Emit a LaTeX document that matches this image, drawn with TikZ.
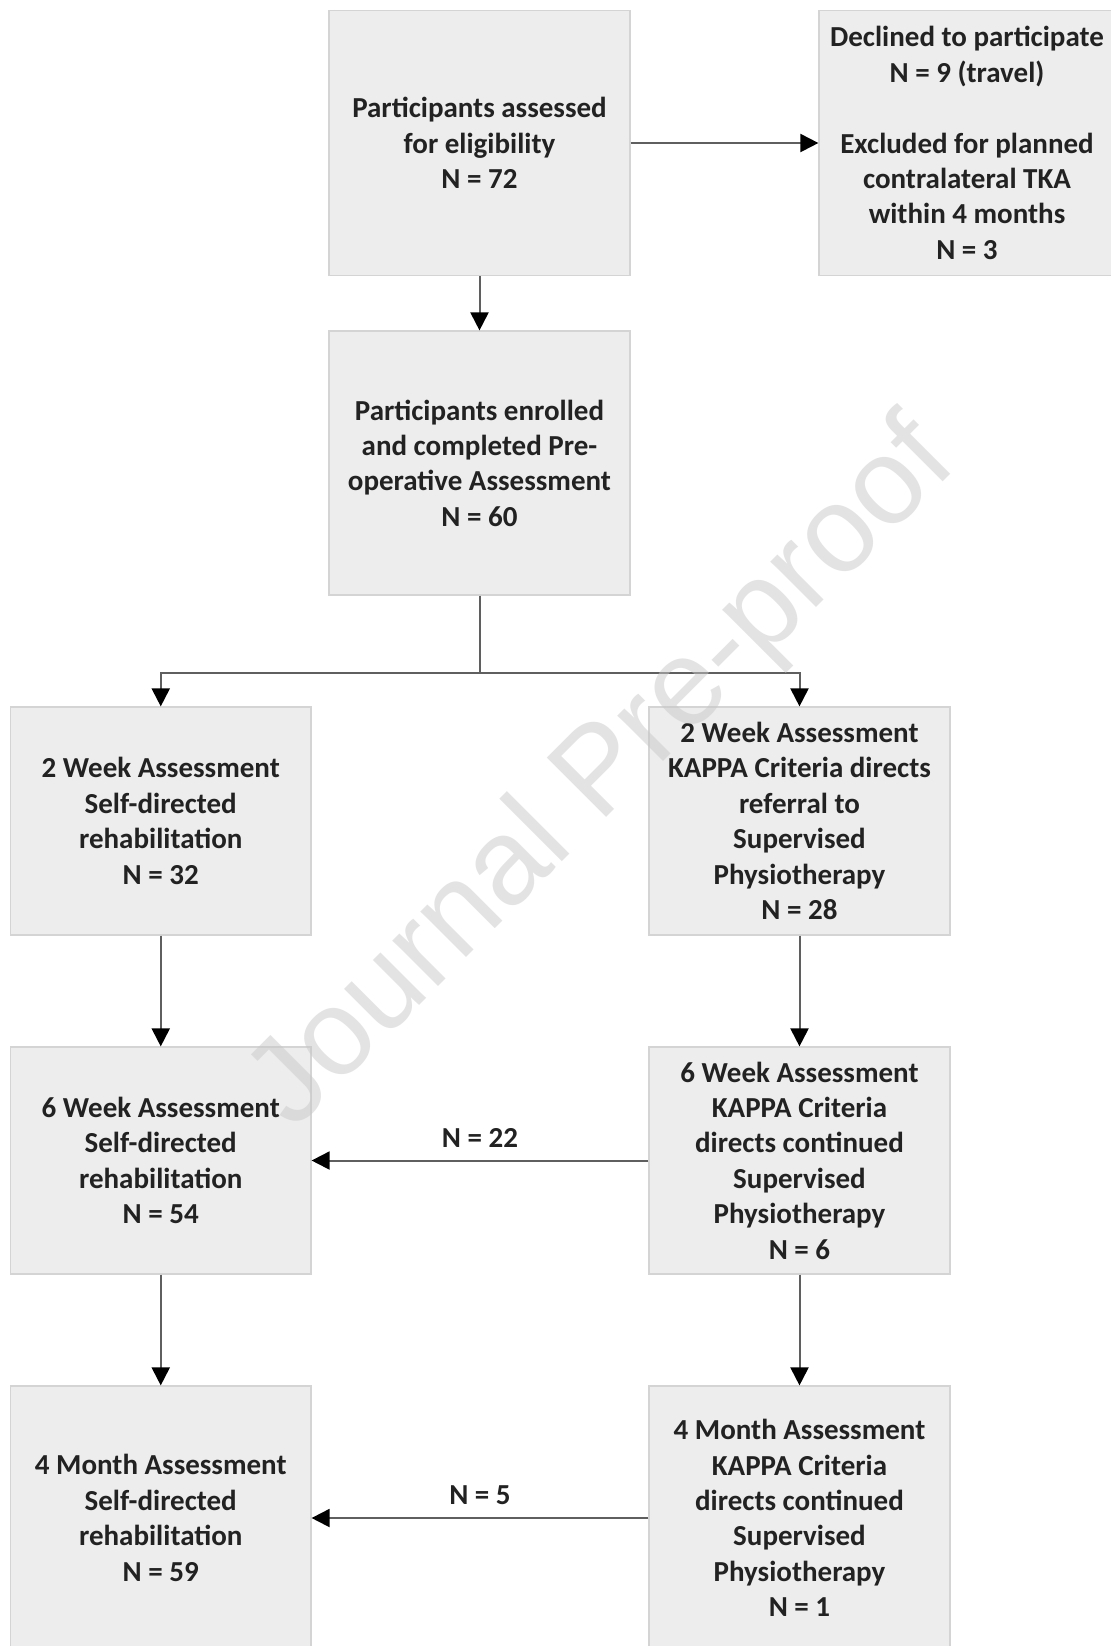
\documentclass[tikz,border=0pt]{standalone}
\usepackage{fontspec}
\setmainfont{Carlito}
\newfontfamily\wmfont{Liberation Sans}
\usetikzlibrary{arrows.meta}
\definecolor{boxfill}{HTML}{EDEDED}
\definecolor{boxline}{HTML}{D4D4D4}
\definecolor{linegray}{HTML}{5F5F5F}
\definecolor{txt}{HTML}{222222}
\definecolor{wm}{HTML}{C8C8C8}
\begin{document}
\begin{tikzpicture}[x=0.5pt,y=-0.5pt,
  box/.style={draw=boxline, line width=0.6pt, fill=boxfill, align=center, text=txt,
    font=\bfseries\fontsize{14.5}{17.7}\selectfont, inner sep=0pt},
  conn/.style={draw=linegray, line width=1pt, -{Triangle[width=9pt,length=9pt,color=black]}},
  plain/.style={draw=linegray, line width=1pt},
  lbl/.style={font=\bfseries\fontsize{14.5}{17.7}\selectfont, text=txt, inner sep=0pt},
  wmark/.style={rotate=45, text=wm, opacity=0.5, font=\wmfont\fontsize{61}{62}\selectfont}
]
\useasboundingbox (0,0) rectangle (1111,1646);
\clip (0,0) rectangle (1111,1646);
\fill[white] (0,0) rectangle (1111,1646);

\node[box, minimum width=150.5pt, minimum height=132.25pt] (A) at (479.5,143)
  {Participants assessed\\for eligibility\\N = 72};
\node[box, minimum width=148pt, minimum height=132.25pt] (B) at (967,143)
  {Declined to participate\\N = 9 (travel)\\[17.7pt]Excluded for planned\\contralateral TKA\\within 4 months\\N = 3};
\node[box, minimum width=150.5pt, minimum height=132pt] (C) at (479.5,463)
  {Participants enrolled\\and completed Pre-\\operative Assessment\\N = 60};
\node[box, minimum width=150.25pt, minimum height=114pt] (D) at (160.75,821)
  {2 Week Assessment\\Self-directed\\rehabilitation\\N = 32};
\node[box, minimum width=150.5pt, minimum height=114pt] (E) at (799.5,821)
  {2 Week Assessment\\KAPPA Criteria directs\\referral to\\Supervised\\Physiotherapy\\N = 28};
\node[box, minimum width=150.25pt, minimum height=113.5pt] (F) at (160.75,1160.5)
  {6 Week Assessment\\Self-directed\\rehabilitation\\N = 54};
\node[box, minimum width=150.5pt, minimum height=113.5pt] (G) at (799.5,1160.5)
  {6 Week Assessment\\KAPPA Criteria\\directs continued\\Supervised\\Physiotherapy\\N = 6};
\node[box, minimum width=150.25pt, minimum height=132pt] (H) at (160.75,1518)
  {4 Month Assessment\\Self-directed\\rehabilitation\\N = 59};
\node[box, minimum width=150.5pt, minimum height=132pt] (I) at (799.5,1518)
  {4 Month Assessment\\KAPPA Criteria\\directs continued\\Supervised\\Physiotherapy\\N = 1};

\coordinate (split) at (479.5,673);
\draw[conn] (A.east) -- (B.west);
\draw[conn] (A.south) -- (C.north);
\draw[plain] (C.south) -- (split);
\draw[conn] (split) -| (D.north);
\draw[conn] (split) -| (E.north);
\draw[conn] (D.south) -- (F.north);
\draw[conn] (F.south) -- (H.north);
\draw[conn] (E.south) -- (G.north);
\draw[conn] (G.south) -- (I.north);
\draw[conn] (G.west) -- node[lbl, above=6pt] (l22) {N = 22} (F.east);
\draw[conn] (I.west) -- node[lbl, above=6pt] (l5) {N = 5} (H.east);

\node[wmark] (wm) at (604,776) {Journal Pre-proof};
\end{tikzpicture}
\end{document}
